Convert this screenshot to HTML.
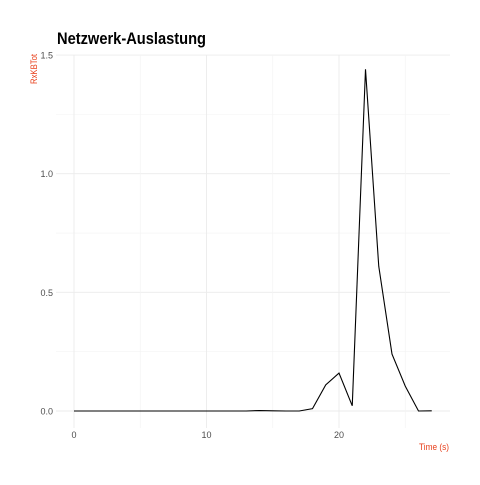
<!DOCTYPE html>
<html><head><meta charset="utf-8"><style>
body{margin:0;background:#fff;font-family:"Liberation Sans",sans-serif}
</style></head><body>
<svg width="480" height="480" xmlns="http://www.w3.org/2000/svg">
<text x="57" y="44" font-size="17" font-weight="bold" fill="#000" font-family="Liberation Sans, sans-serif" textLength="149" lengthAdjust="spacingAndGlyphs">Netzwerk-Auslastung</text>
<g id="grid"></g>
<g id="axes"></g>
<path id="line" fill="none" stroke="#000" stroke-width="1.1"/>
<text transform="translate(37,84) rotate(-90)" font-size="9" fill="#e8401c" textLength="30" lengthAdjust="spacingAndGlyphs">RxKBTot</text>
<text x="449" y="450" text-anchor="end" font-size="9" fill="#e8401c" textLength="30" lengthAdjust="spacingAndGlyphs">Time (s)</text>
</svg>
<script>
const times=[0,1,2,3,4,5,6,7,8,9,10,11,12,13,14,15,16,17,18,19,20,21,22,23,24,25,26,27];
const values=[0,0,0,0,0,0,0,0,0,0,0,0,0,0,0.002,0.001,0,0,0.01,0.11,0.16,0.022,1.44,0.61,0.24,0.105,0,0.001];
const xTicks=[0,10,20];
const yTicks=[0,0.5,1.0,1.5];
const yTickLabels=["0.0","0.5","1.0","1.5"];
const X=v=>74+v*13.25, Y=v=>411-v*237.3;
const ns="http://www.w3.org/2000/svg";
const grid=document.getElementById('grid'), axes=document.getElementById('axes');
function ln(x1,y1,x2,y2,c,w,name){const l=document.createElementNS(ns,'line');
l.setAttribute('x1',x1);l.setAttribute('y1',y1);l.setAttribute('x2',x2);l.setAttribute('y2',y2);
l.setAttribute('stroke',c);l.setAttribute('stroke-width',w);


grid.appendChild(l);}
for(let i=0;i<yTicks.length;i++){ln(56,Y(yTicks[i]),450,Y(yTicks[i]),'#ebebeb',0.9,'y-gridline');
 if(i<yTicks.length-1){ln(56,Y((yTicks[i]+yTicks[i+1])/2),450,Y((yTicks[i]+yTicks[i+1])/2),'#f3f3f3',0.6,'y-minor-gridline');}
 const t=document.createElementNS(ns,'text');t.setAttribute('x',53);t.setAttribute('y',Y(yTicks[i])+3.5);
 t.setAttribute('text-anchor','end');t.setAttribute('font-size','9');t.setAttribute('fill','#4d4d4d');
 
 
 t.textContent=yTickLabels[i];axes.appendChild(t);}
for(let i=0;i<xTicks.length;i++){ln(X(xTicks[i]),55,X(xTicks[i]),428,'#ebebeb',0.9,'x-gridline');
 ln(X(xTicks[i]+5),55,X(xTicks[i]+5),428,'#f3f3f3',0.6,'x-minor-gridline');
 const t=document.createElementNS(ns,'text');t.setAttribute('x',X(xTicks[i]));t.setAttribute('y',438);
 t.setAttribute('text-anchor','middle');t.setAttribute('font-size','9');t.setAttribute('fill','#4d4d4d');
 
 
 t.textContent=xTicks[i];axes.appendChild(t);}
document.getElementById('line').setAttribute('d',times.map((t,i)=>(i?'L':'M')+X(t)+','+Y(values[i])).join(''));
</script>
</body></html>
